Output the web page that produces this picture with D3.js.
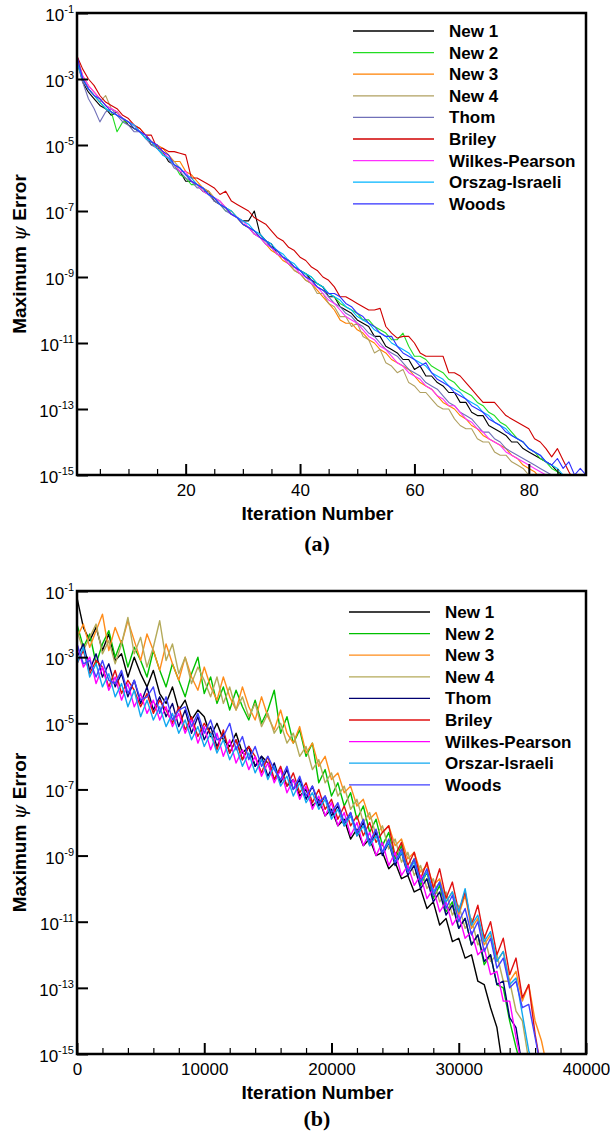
<!DOCTYPE html>
<html>
<head>
<meta charset="utf-8">
<script src="https://cdn.jsdelivr.net/npm/d3@7"></script>
<style>
  body { margin: 0; background: #fff; }
</style>
</head>
<body>
<div id="chart"></div>
<script>
// series names and colours (panel a / panel b)
const namesA = ["New 1", "New 2", "New 3", "New 4", "Thom", "Briley", "Wilkes-Pearson", "Orszag-Israeli", "Woods"];
const namesB = ["New 1", "New 2", "New 3", "New 4", "Thom", "Briley", "Wilkes-Pearson", "Orszar-Israeli", "Woods"];
const coloursA = ["#000000", "#22dd22", "#ff8000", "#b0a060", "#7070b8", "#d00000", "#ff30ff", "#00b4ff", "#3030ff"];
const coloursB = ["#000000", "#00c000", "#ff8c1a", "#b4aa5a", "#000070", "#e01010", "#ff00ff", "#10a8f0", "#4040ff"];

// y ticks (exponents of 10)
const yTickExp = [-1, -3, -5, -7, -9, -11, -13, -15];

// panel a: log10(max psi error), one value per iteration starting at iteration 1
const a_new1 = [-2.4,-3.1,-3.4,-3.6,-3.8,-3.9,-4.1,-4.0,-4.2,-4.4, -4.5,-4.6,-4.7,-5.0,-5.0,-5.2,-5.5,-5.6,-5.8,-6.1, -6.1,-6.2,-6.4,-6.4,-6.7,-6.8,-6.9,-7.1,-7.2,-7.3, -7.3,-7.0,-7.7,-7.9,-8.0,-8.3,-8.4,-8.5,-8.7,-8.8, -8.9,-9.1,-9.2,-9.3,-9.6,-9.6,-9.9,-10.0,-10.1,-10.3, -10.4,-10.5,-10.8,-10.8,-11.1,-11.2,-11.3,-11.5,-11.5,-11.8, -11.7,-12.0,-12.0,-12.2,-12.3,-12.5,-12.5,-12.8,-12.8,-13.1, -13.2,-13.2,-13.5,-13.6,-13.7,-13.8,-14.0,-14.0,-14.2,-14.3, -14.4,-14.5,-14.6,-14.7,-14.9,-15.0,-15.2];
const a_new2 = [-2.5,-3.0,-3.3,-3.5,-3.7,-3.9,-4.0,-4.6,-4.3,-4.3, -4.5,-4.6,-4.8,-4.9,-5.0,-5.3,-5.4,-5.6,-5.9,-6.0, -6.2,-6.2,-6.4,-6.5,-6.6,-6.8,-7.0,-7.0,-7.2,-7.4, -7.5,-7.6,-7.8,-7.9,-8.1,-8.2,-8.4,-8.5,-8.7,-8.8, -8.9,-9.0,-9.2,-9.3,-9.5,-9.6,-9.8,-9.9,-10.0,-10.1, -10.3,-10.3,-10.5,-10.6,-10.7,-10.9,-10.9,-10.7,-11.1,-11.4, -11.4,-11.5,-11.7,-11.8,-11.9,-12.1,-12.2,-12.4,-12.5,-12.6, -12.8,-12.9,-13.1,-13.2,-13.4,-13.5,-13.7,-13.9,-14.0,-14.2, -14.3,-14.5,-14.6,-14.8,-14.9,-15.1];
const a_new3 = [-2.3,-2.9,-3.2,-3.4,-3.6,-3.8,-3.9,-4.0,-4.2,-4.3, -4.4,-4.5,-4.7,-4.9,-5.0,-5.1,-5.3,-5.5,-5.5,-5.8, -5.9,-6.1,-6.3,-6.4,-6.6,-6.8,-6.9,-7.0,-7.2,-7.4, -7.5,-7.7,-7.8,-8.0,-8.2,-8.3,-8.5,-8.6,-8.8,-8.9, -9.1,-9.2,-9.4,-9.6,-9.8,-10.0,-10.3,-10.4,-10.4,-10.6, -10.7,-10.9,-11.0,-11.2,-11.3,-11.5,-11.6,-11.7,-11.8,-12.0, -12.2,-12.3,-12.4,-12.6,-12.8,-12.9,-13.0,-13.2,-13.3,-13.5, -13.6,-13.8,-13.9,-14.0,-14.1,-14.2,-14.4,-14.5,-14.7,-14.8, -14.9,-15.1];
const a_new4 = [-2.4,-3.0,-3.3,-3.5,-3.7,-3.5,-3.9,-4.0,-4.2,-4.3, -4.4,-4.6,-4.7,-4.9,-5.1,-5.2,-5.4,-5.5,-5.7,-5.9, -6.0,-6.2,-6.3,-6.4,-6.6,-6.7,-6.9,-7.1,-7.2,-7.4, -7.5,-7.6,-7.8,-8.0,-8.1,-8.3,-8.4,-8.6,-8.8,-8.9, -9.1,-9.2,-9.5,-9.5,-9.8,-9.9,-10.2,-10.2,-10.5,-10.4, -10.8,-10.9,-11.3,-11.2,-11.6,-11.7,-11.9,-11.8,-12.2,-12.3, -12.5,-12.5,-12.7,-12.9,-13.0,-13.0,-13.3,-13.5,-13.6,-13.6, -13.9,-14.0,-14.0,-14.3,-14.4,-14.4,-14.6,-14.7,-14.8,-15.0, -15.2];
const a_thom = [-2.5,-3.1,-3.6,-3.9,-4.3,-4.0,-3.9,-4.1,-4.3,-4.4, -4.6,-4.6,-4.8,-5.0,-5.1,-5.3,-5.4,-5.7,-5.8,-6.0, -6.1,-6.3,-6.3,-6.5,-6.7,-6.8,-7.0,-7.1,-7.2,-7.4, -7.5,-7.7,-7.8,-8.0,-8.1,-8.3,-8.4,-8.6,-8.7,-8.8, -9.0,-9.1,-9.3,-9.4,-9.6,-9.8,-9.9,-10.1,-10.2,-10.4, -10.5,-10.7,-10.8,-11.0,-11.2,-11.3,-11.4,-11.6,-11.8,-11.9, -12.0,-12.2,-12.3,-12.4,-12.6,-12.8,-12.9,-13.1,-13.2,-13.3, -13.5,-13.7,-13.7,-13.9,-14.0,-14.2,-14.3,-14.4,-14.5,-14.6, -14.7,-14.8,-14.9,-15.0,-15.2];
const a_briley = [-2.3,-2.7,-3.0,-3.2,-3.5,-3.7,-3.8,-3.9,-4.1,-4.2, -4.4,-4.5,-4.7,-4.7,-5.1,-5.1,-5.2,-5.2,-5.25,-5.3, -6.0,-6.0,-6.1,-6.2,-6.3,-6.5,-6.4,-6.7,-6.8,-6.9, -7.0,-7.2,-7.3,-7.4,-7.6,-7.8,-7.9,-8.1,-8.2,-8.4, -8.5,-8.7,-8.8,-9.0,-9.1,-9.3,-9.6,-9.6,-9.7,-9.8, -9.9,-10.0,-10.0,-9.95,-10.5,-10.7,-10.85,-10.8,-10.8,-11.0, -11.3,-11.4,-11.4,-11.4,-11.4,-11.9,-11.9,-12.0,-12.2,-12.4, -12.6,-12.8,-12.8,-12.8,-13.0,-13.2,-13.3,-13.4,-13.5,-13.6, -13.9,-14.0,-14.2,-14.45,-14.2,-14.55,-14.9,-15.2];
const a_wilkes = [-2.4,-2.9,-3.2,-3.4,-3.6,-3.8,-3.9,-4.0,-4.2,-4.3, -4.4,-4.6,-4.7,-4.9,-5.0,-5.2,-5.4,-5.6,-5.8,-5.8, -6.1,-6.2,-6.4,-6.5,-6.6,-6.7,-6.9,-7.1,-7.2,-7.3, -7.5,-7.7,-7.8,-8.0,-8.1,-8.3,-8.4,-8.6,-8.7,-8.9, -9.0,-9.2,-9.3,-9.5,-9.7,-9.8,-10.0,-10.2,-10.3,-10.4, -10.6,-10.8,-10.9,-11.1,-11.2,-11.4,-11.6,-11.7,-11.9,-12.0, -12.1,-12.3,-12.4,-12.6,-12.7,-12.9,-12.9,-13.1,-13.3,-13.4, -13.6,-13.7,-13.9,-14.0,-14.1,-14.3,-14.4,-14.5,-14.6,-14.7, -14.8,-14.9,-15.0,-15.2];
const a_orszag = [-2.5,-3.0,-3.3,-3.5,-3.7,-3.9,-4.0,-4.1,-4.2,-4.3, -4.4,-4.6,-4.8,-4.9,-5.1,-5.3,-5.4,-5.6,-5.7,-5.9, -6.0,-6.2,-6.3,-6.5,-6.6,-6.8,-6.9,-7.0,-7.2,-7.3, -7.4,-7.6,-7.7,-7.9,-8.0,-8.2,-8.3,-8.5,-8.6,-8.8, -8.9,-9.0,-9.2,-9.3,-9.5,-9.6,-9.7,-9.9,-10.0,-10.2, -10.3,-10.4,-10.6,-10.7,-10.8,-11.0,-11.1,-11.2,-11.3,-11.5, -11.6,-11.7,-11.9,-12.0,-12.1,-12.3,-12.4,-12.5,-12.7,-12.8, -12.9,-13.1,-13.2,-13.4,-13.5,-13.6,-13.8,-13.9,-14.0,-14.2, -14.3,-14.4,-14.6,-14.7,-14.8,-15.0,-15.2];
const a_woods = [-2.3,-3.0,-3.3,-3.5,-3.6,-3.8,-4.0,-4.1,-4.2,-4.3, -4.5,-4.6,-4.7,-4.9,-5.0,-5.2,-5.3,-5.6,-5.7,-5.9, -6.1,-6.2,-6.3,-6.5,-6.6,-6.8,-6.9,-7.1,-7.2,-7.4, -7.5,-7.6,-7.8,-7.9,-8.1,-8.2,-8.4,-8.5,-8.7,-8.8, -9.0,-9.1,-9.3,-9.4,-9.5,-9.5,-9.6,-9.8,-9.9,-10.1, -10.2,-10.4,-10.5,-10.7,-10.8,-10.8,-11.1,-11.3,-11.4,-11.5, -11.7,-11.6,-11.9,-12.1,-12.2,-12.3,-12.5,-12.6,-12.7,-12.9, -13.0,-13.1,-13.3,-13.4,-13.5,-13.7,-13.8,-13.9,-14.0,-14.2, -14.3,-14.4,-14.6,-14.7,-14.5,-14.8,-14.6,-15.0,-14.8,-15.0];

// panel b: log10(max psi error), sampled every stepB iterations from 0
const stepB = 500;
const b_new1 = [-1.2,-2.1,-2.5,-2.1,-2.8,-2.3,-3.1,-2.9,-3.6,-3.0, -3.5,-3.9,-3.4,-4.1,-4.4,-3.9,-4.6,-4.3,-4.9,-4.6, -4.8,-5.4,-5.0,-5.5,-5.7,-5.3,-5.9,-5.7,-6.3,-6.0, -6.2,-6.7,-6.4,-6.9,-6.7,-7.2,-7.0,-7.5,-7.3,-7.8, -7.6,-8.1,-7.9,-8.5,-8.2,-8.7,-8.5,-9.0,-8.9,-9.4, -9.2,-9.7,-9.6,-10.1,-10.0,-10.6,-10.4,-11.1,-10.9,-11.6, -11.5,-12.1,-12.0,-12.8,-12.9,-13.6,-14.2,-15.5];
const b_new2 = [-2.0,-2.7,-2.3,-3.2,-2.6,-2.2,-3.0,-2.5,-3.3,-2.7, -3.1,-3.6,-2.8,-3.4,-3.9,-3.2,-3.7,-4.2,-3.5,-3.0, -4.1,-3.6,-4.4,-3.9,-4.6,-4.0,-4.5,-4.9,-4.3,-5.0, -4.6,-4.0,-5.3,-4.8,-5.6,-5.2,-6.0,-5.6,-6.8,-6.4, -7.2,-6.8,-7.5,-7.1,-7.9,-7.5,-8.3,-7.9,-8.7,-8.3, -9.1,-8.7,-9.5,-9.1,-9.9,-9.5,-10.3,-9.9,-10.7,-10.4, -11.2,-10.9,-11.7,-11.4,-12.3,-12.0,-12.9,-13.0,-14.0,-14.8, -15.5];
const b_new3 = [-2.4,-2.0,-2.7,-2.2,-1.7,-2.8,-2.1,-2.6,-1.9,-2.5, -3.1,-2.3,-2.8,-3.4,-2.6,-3.2,-3.7,-3.0,-3.6,-4.0, -3.3,-3.9,-4.3,-3.6,-4.2,-4.6,-3.9,-4.5,-4.9,-4.2, -4.8,-5.2,-4.6,-5.3,-5.6,-5.1,-5.9,-5.6,-6.3,-6.0, -6.7,-6.5,-7.1,-6.9,-7.5,-7.3,-7.9,-7.7,-8.3,-8.1, -8.7,-8.5,-9.1,-8.9,-9.5,-9.3,-9.9,-9.7,-10.4,-10.1, -10.8,-10.2,-11.2,-10.9,-11.7,-11.4,-12.2,-11.9,-12.8,-12.5, -13.4,-12.9,-14.0,-14.6,-15.5];
const b_new4 = [-2.2,-2.8,-2.4,-2.0,-2.9,-2.5,-3.2,-2.6,-1.8,-2.9, -2.4,-3.3,-2.7,-1.9,-3.1,-2.6,-3.5,-3.0,-3.8,-3.3, -3.7,-4.2,-3.6,-4.4,-3.9,-4.6,-4.2,-4.8,-4.4,-5.1, -4.7,-5.3,-5.0,-5.6,-5.3,-6.0,-5.7,-6.4,-6.1,-6.8, -6.5,-7.2,-6.9,-7.6,-7.3,-8.0,-7.7,-8.4,-8.1,-8.8, -8.5,-9.2,-8.9,-9.6,-9.3,-10.0,-9.7,-10.4,-10.1,-10.8, -10.5,-11.2,-10.9,-11.7,-11.4,-12.2,-12.0,-12.8,-12.8,-13.7, -14.0,-15.2];
const b_thom = [-3.0,-2.6,-3.4,-2.9,-3.6,-3.2,-3.9,-3.5,-4.2,-3.7, -4.4,-3.9,-4.6,-4.2,-4.8,-4.4,-5.1,-4.6,-5.3,-4.8, -5.5,-5.1,-5.7,-5.3,-5.9,-5.5,-6.1,-5.7,-6.3,-6.0, -6.6,-6.2,-6.8,-6.4,-7.0,-6.7,-7.3,-6.9,-7.5,-7.2, -7.8,-7.5,-8.1,-7.7,-8.4,-8.0,-8.7,-8.3,-9.0,-8.6, -9.3,-8.9,-9.6,-9.3,-10.0,-9.7,-10.4,-10.1,-10.8,-10.5, -11.2,-10.9,-11.7,-11.4,-12.2,-12.0,-12.9,-12.8,-13.9,-14.2, -15.4];
const b_briley = [-3.2,-2.8,-3.5,-3.1,-3.3,-3.9,-3.4,-4.1,-3.7,-4.0, -4.5,-4.1,-4.7,-4.3,-4.6,-5.0,-4.5,-5.2,-4.8,-5.4, -5.0,-5.3,-5.8,-5.2,-5.9,-5.5,-6.1,-5.7,-6.0,-6.5, -6.0,-6.7,-6.3,-6.9,-6.5,-7.1,-6.8,-7.4,-7.0,-7.6, -7.3,-7.9,-7.5,-8.1,-7.8,-8.4,-8.0,-8.6,-8.3,-8.1, -9.0,-8.6,-9.3,-8.9,-9.7,-9.2,-10.0,-9.4,-10.3,-9.8, -10.7,-10.1,-11.1,-10.5,-11.5,-11.0,-12.0,-11.5,-12.6,-12.1, -13.3,-12.9,-14.4,-15.5];
const b_wilkes = [-2.6,-3.3,-3.0,-3.8,-3.3,-4.0,-3.6,-4.3,-3.8,-4.5, -4.1,-4.7,-4.3,-4.9,-4.5,-5.1,-4.7,-5.3,-4.9,-5.6, -5.1,-5.8,-5.3,-6.0,-5.5,-6.2,-5.8,-6.4,-6.0,-6.6, -6.2,-6.8,-6.4,-7.1,-6.7,-7.3,-6.9,-7.6,-7.2,-7.8, -7.4,-8.1,-7.7,-8.4,-8.0,-8.7,-8.3,-9.0,-8.6,-9.3, -8.9,-9.6,-9.3,-9.9,-9.6,-10.3,-10.0,-10.7,-10.4,-11.1, -10.8,-11.5,-11.3,-12.0,-11.8,-12.6,-12.5,-13.4,-13.4,-14.5, -15.4];
const b_orszar = [-3.2,-2.7,-3.6,-3.2,-3.9,-3.5,-4.2,-3.8,-4.5,-4.0, -4.8,-4.3,-4.9,-4.5,-5.1,-4.7,-5.3,-4.9,-5.5,-5.1, -5.7,-5.3,-5.9,-5.5,-6.1,-5.7,-6.3,-5.9,-6.5,-6.1, -6.7,-6.3,-6.9,-6.6,-7.2,-6.8,-7.4,-7.1,-7.6,-7.3, -7.9,-7.6,-8.1,-7.8,-8.4,-8.1,-8.7,-8.4,-8.9,-8.6, -9.2,-8.9,-9.5,-9.2,-9.8,-9.5,-10.1,-9.8,-10.4,-10.1, -10.7,-10.0,-11.1,-10.8,-11.6,-11.3,-12.2,-11.9,-12.9,-12.7, -13.8,-14.9,-15.5];
const b_woods = [-2.6,-3.2,-3.1,-3.6,-3.1,-3.7,-3.8,-3.4,-4.1,-3.7, -4.3,-4.2,-3.9,-4.7,-4.2,-4.9,-4.6,-4.5,-5.1,-4.7, -5.3,-4.9,-5.5,-5.4,-5.0,-5.8,-5.4,-6.1,-5.7,-6.3, -6.0,-6.4,-6.7,-6.3,-7.0,-6.6,-7.2,-6.9,-7.4,-7.2, -7.7,-7.4,-8.0,-7.7,-8.3,-7.9,-8.6,-8.2,-8.9,-8.5, -9.2,-8.8,-9.5,-9.1,-9.8,-9.4,-10.2,-9.8,-10.6,-10.2, -11.0,-10.6,-11.4,-11.0,-11.9,-11.5,-12.4,-12.1,-13.0,-12.8, -13.6,-13.5,-14.5,-15.5];

const seriesA = [a_new1, a_new2, a_new3, a_new4, a_thom, a_briley, a_wilkes, a_orszag, a_woods];
const seriesB = [b_new1, b_new2, b_new3, b_new4, b_thom, b_briley, b_wilkes, b_orszar, b_woods];

const xMajorA = [20, 40, 60, 80];
const xMinorA = [5, 10, 15, 25, 30, 35, 45, 50, 55, 65, 70, 75, 85];
const xMajorB = [0, 10000, 20000, 30000, 40000];
const xMinorB = [2000, 4000, 6000, 8000, 12000, 14000, 16000, 18000, 22000, 24000, 26000, 28000, 32000, 34000, 36000, 38000];

const W = 610, H = 1139;
const sans = "'Liberation Sans', Arial, Helvetica, sans-serif";
const svg = d3.select("#chart").append("svg")
  .attr("width", W)
  .attr("height", H)
  .style("font-family", sans);
const defs = svg.append("defs");

function translate(x, y) {
  return "translate(" + x + "," + y + ")";
}

function drawPanel(p) {
  let g = svg.append("g");

  let x = d3.scaleLinear().domain(p.xDomain).range([p.left, p.right]);
  let y = d3.scaleLog().domain([1e-15, 1e-1]).range([p.bottom, p.top]);

  defs.append("clipPath").attr("id", p.id)
    .append("rect")
    .attr("x", p.left).attr("y", p.top)
    .attr("width", p.right - p.left).attr("height", p.bottom - p.top);

  let line = d3.line()
    .x(d => x(d[0]))
    .y(d => y(d[1]));

  let lines = g.append("g").attr("clip-path", "url(#" + p.id + ")");
  p.series.forEach(function(s, k) {
    let pts = s.map((v, i) => [p.xAt(i), Math.pow(10, v)]);
    lines.append("path")
      .attr("d", line(pts))
      .attr("fill", "none")
      .attr("stroke", p.colours[k])
      .attr("stroke-width", p.lw)
      .attr("stroke-linejoin", "round");
  });

  // minor x ticks (inside)
  g.append("g")
    .attr("transform", translate(0, p.bottom))
    .call(d3.axisBottom(x).tickValues(p.xMinor).tickSize(-6).tickFormat(""))
    .call(a => a.select(".domain").remove())
    .selectAll("line").attr("stroke-width", 1.2);

  // major x ticks + labels
  let xa = g.append("g")
    .attr("transform", translate(0, p.bottom))
    .call(d3.axisBottom(x).tickValues(p.xMajor).tickSizeInner(-11).tickSizeOuter(0).tickPadding(9).tickFormat(d3.format("d")));
  xa.select(".domain").remove();
  xa.selectAll("line").attr("stroke-width", 2);
  xa.selectAll("text")
    .style("font-size", "17px")
    .style("font-family", sans)
    .attr("fill", "#000");

  // y ticks (inside) with 10^n labels
  let ya = g.append("g")
    .attr("transform", translate(p.left, 0))
    .call(d3.axisLeft(y).tickValues(yTickExp.map(e => Math.pow(10, e))).tickSizeInner(-11).tickSizeOuter(0).tickFormat(""));
  ya.select(".domain").remove();
  ya.selectAll("line").attr("stroke-width", 2);

  let yl = g.append("g");
  yTickExp.forEach(function(e) {
    let t = yl.append("text")
      .attr("x", p.left - 3)
      .attr("y", y(Math.pow(10, e)) + 8)
      .attr("text-anchor", "end")
      .style("font-size", "17px");
    t.append("tspan").text("10");
    t.append("tspan").style("font-size", "11px").attr("dy", -8).text(String(e));
  });

  // frame
  g.append("rect")
    .attr("x", p.left).attr("y", p.top)
    .attr("width", p.right - p.left).attr("height", p.bottom - p.top)
    .attr("fill", "none")
    .attr("stroke", "#000")
    .attr("stroke-width", 2.5);

  // axis titles
  g.append("text")
    .attr("x", (p.left + p.right) / 2 - 14)
    .attr("y", p.bottom + 45)
    .attr("text-anchor", "middle")
    .style("font-size", "19px")
    .style("font-weight", "bold")
    .text("Iteration Number");

  let yt = g.append("text")
    .attr("transform", translate(26, (p.top + p.bottom) / 2 + 10) + " rotate(-90)")
    .attr("text-anchor", "middle")
    .style("font-size", "19px")
    .style("font-weight", "bold");
  yt.append("tspan").text("Maximum ");
  yt.append("tspan")
    .style("font-weight", "normal")
    .style("font-family", "'DejaVu Serif', serif")
    .style("font-style", "italic")
    .text("\u03C8");
  yt.append("tspan").text(" Error");

  // panel label
  g.append("text")
    .attr("x", 317)
    .attr("y", p.bottom + p.labelDy)
    .attr("text-anchor", "middle")
    .style("font-family", "'Liberation Serif', 'Times New Roman', serif")
    .style("font-weight", "bold")
    .style("font-size", "22px")
    .text(p.label);

  // legend
  let lg = g.append("g");
  p.names.forEach(function(n, k) {
    let ly = p.legY + k * 21.6;
    lg.append("line")
      .attr("x1", p.legX).attr("x2", p.legX + 81)
      .attr("y1", ly).attr("y2", ly)
      .attr("stroke", p.colours[k])
      .attr("stroke-width", 1.3);
    lg.append("text")
      .attr("x", p.legX + 96)
      .attr("y", ly + 6)
      .style("font-size", "17px")
      .style("font-weight", "bold")
      .text(n);
  });
}

drawPanel({
  id: "clipA", top: 13, bottom: 475, left: 77, right: 586,
  xDomain: [1, 90], xMajor: xMajorA, xMinor: xMinorA,
  xAt: i => i + 1,
  series: seriesA, colours: coloursA, names: namesA, lw: 1.1,
  legX: 353, legY: 31, label: "(a)", labelDy: 76
});

drawPanel({
  id: "clipB", top: 591, bottom: 1054, left: 77, right: 586,
  xDomain: [0, 40000], xMajor: xMajorB, xMinor: xMinorB,
  xAt: i => i * stepB,
  series: seriesB, colours: coloursB, names: namesB, lw: 1.4,
  legX: 349, legY: 612, label: "(b)", labelDy: 72
});
</script>
</body>
</html>
